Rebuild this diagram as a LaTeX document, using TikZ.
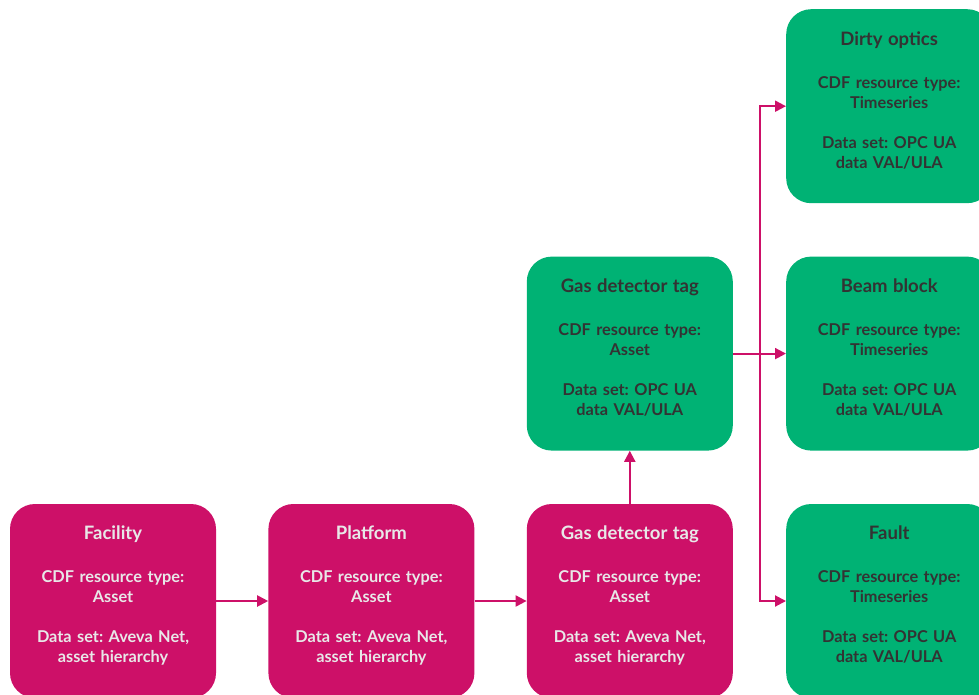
\documentclass[tikz,border=0pt]{standalone}
\usepackage{fontspec}
\setmainfont{Lato}
\frenchspacing
\usetikzlibrary{arrows.meta, positioning, calc}

\definecolor{assetmag}{RGB}{205,16,104}
\definecolor{tsgreen}{RGB}{0,178,116}
\definecolor{lighttext}{RGB}{232,232,232}
\definecolor{darktext}{RGB}{51,51,51}

\begin{document}
\begin{tikzpicture}[
    x=1pt, y=-1pt,
    node distance=52pt and 52pt,
    every node/.style={align=center},
    card/.style={rectangle, rounded corners=25pt, minimum width=206pt, minimum height=194pt, text width=190pt, font=\bfseries\fontsize{16.3}{20}\selectfont, execute at end node={\rule[-13pt]{0pt}{13pt}}},
    asset/.style={card, fill=assetmag, text=lighttext},
    series/.style={card, fill=tsgreen, text=darktext},
    arrow/.style={line width=2pt, draw=assetmag, -{Triangle[length=11pt, width=11pt]}}
]
\useasboundingbox (0,0) rectangle (979,695);

% Asset hierarchy row
\node (facility) [asset] at (113,601) {{\fontsize{18.5}{20}\selectfont Facility}\\[23pt]CDF resource type:\\Asset\\[20pt]Data set: Aveva Net,\\asset hierarchy};
\node (platform) [asset, right=of facility] {{\fontsize{18.5}{20}\selectfont Platform}\\[23pt]CDF resource type:\\Asset\\[20pt]Data set: Aveva Net,\\asset hierarchy};
\node (gastag) [asset, right=of platform] {{\fontsize{18.5}{20}\selectfont Gas detector tag}\\[23pt]CDF resource type:\\Asset\\[20pt]Data set: Aveva Net,\\asset hierarchy};

% OPC UA side
\node (gasopc) [series, above=53pt of gastag] {{\fontsize{18.5}{20}\selectfont Gas detector tag}\\[23pt]CDF resource type:\\Asset\\[20pt]Data set: OPC UA\\data VAL/ULA};
\node (beam) [series, right=53pt of gasopc] {{\fontsize{18.5}{20}\selectfont Beam block}\\[23pt]CDF resource type:\\Timeseries\\[20pt]Data set: OPC UA\\data VAL/ULA};
\node (dirty) [series, above=53pt of beam] {{\fontsize{18.5}{20}\selectfont Dirty optics}\\[23pt]CDF resource type:\\Timeseries\\[20pt]Data set: OPC UA\\data VAL/ULA};
\node (fault) [series, below=53pt of beam] {{\fontsize{18.5}{20}\selectfont Fault}\\[23pt]CDF resource type:\\Timeseries\\[20pt]Data set: OPC UA\\data VAL/ULA};

% Arrows
\coordinate (fork) at ($(gasopc.east)!0.5!(beam.west)$);
\draw [arrow] (facility) -- (platform);
\draw [arrow] (platform) -- (gastag);
\draw [arrow] (gastag) -- (gasopc);
\draw [arrow] (gasopc) -- (beam);
\draw [arrow] (fork) |- (dirty.west);
\draw [arrow] (fork) |- (fault.west);

\end{tikzpicture}
\end{document}
